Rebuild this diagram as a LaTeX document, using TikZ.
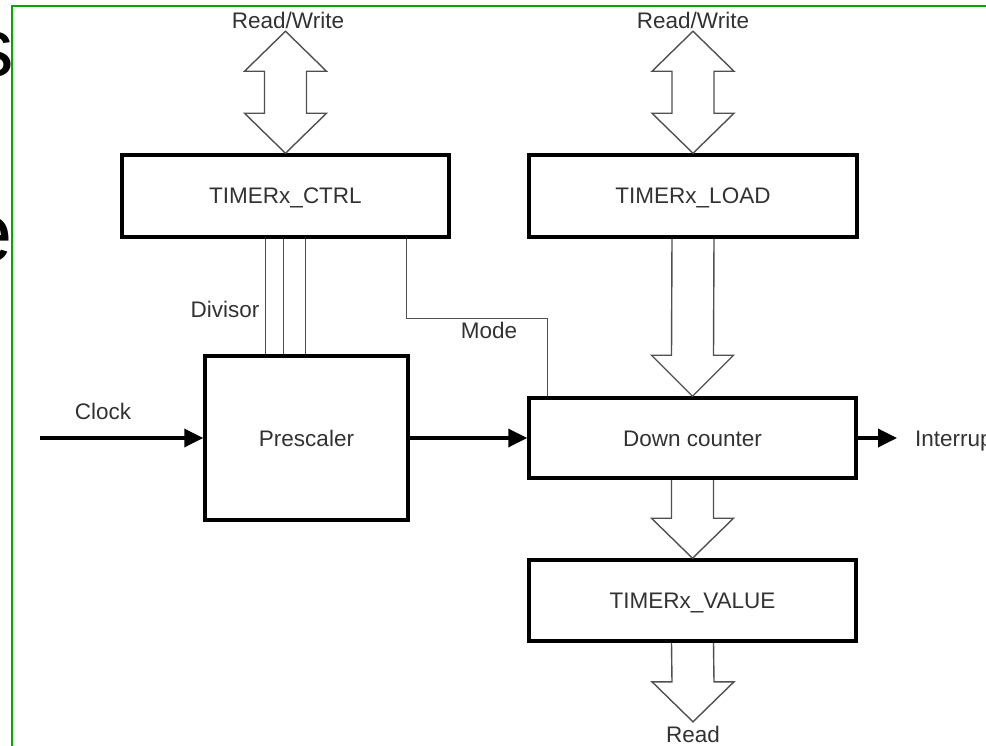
\documentclass[tikz,border=0pt]{standalone}
\usepackage{fontspec}
\setmainfont{Liberation Sans}
\usetikzlibrary{arrows.meta,calc}
\definecolor{framegreen}{RGB}{0,170,0}
\definecolor{txt}{RGB}{50,50,50}
\definecolor{bus}{RGB}{80,80,80}
\begin{document}
\begin{tikzpicture}[x=1pt,y=-1pt,
  blk/.style={draw=black, line width=3.5pt, minimum width=327pt, minimum height=82pt,
    inner sep=0pt, text=txt, font=\fontsize{22.5}{27}\selectfont, text height=16pt, text depth=0pt},
  lbl/.style={text=txt, font=\fontsize{22.5}{27}\selectfont, inner sep=0pt, text height=16pt, text depth=0pt},
  busline/.style={draw=bus, line width=1.4pt, line join=miter},
  wire/.style={draw=bus, line width=1.4pt},
  sig/.style={draw=black, line width=3.5pt, -{Triangle[length=19pt,width=18pt]}},
  bigletter/.style={anchor=base east, inner sep=0pt, font=\fontsize{83}{90}\selectfont}]
\useasboundingbox (0,0) rectangle (986,746);
\clip (0,0) rectangle (986,746);

% background letters of the slide
\node[bigletter] (bs) at (14,77) {s};
\node[bigletter] (be) at (13,262) {e};

% blocks
\node[blk] (ctrl) at (285.5,196) {TIMERx\_CTRL};
\node[blk, minimum width=328pt] (load) at (693,196) {TIMERx\_LOAD};
\node[blk, minimum width=203pt, minimum height=164pt] (pres) at (306.5,438) {Prescaler};
\node[blk, minimum height=80pt] (down) at (692.5,438) {Down counter};
\node[blk, minimum height=81pt] (value) at (692.5,600.5) {TIMERx\_VALUE};

% labels
\node[lbl] (rw1) at (288,21) {Read/Write};
\node[lbl] (rw2) at (693,21) {Read/Write};
\node[lbl] (div) at (225,309) {Divisor};
\node[lbl] (mode) at (489,330) {Mode};
\node[lbl] (clk) at (103,411) {Clock};
\node[lbl, anchor=west] (intr) at (915,438) {Interrupt};
\node[lbl] (rd) at (693,734) {Read};

% double bus arrows (read/write)
\foreach \b in {ctrl, load} {
  \draw[busline] (\b.north) -- ++(-41,-40) -- ++(20,0) -- ++(0,-42) -- ++(-20,0)
    -- ++(41,-40) -- ++(41,40) -- ++(-20,0) -- ++(0,42) -- ++(20,0) -- cycle;
}

% load -> down counter
\draw[busline] ($(load.south)+(-21,0)$) -- ($(down.north)+(-21,-41)$) -- ($(down.north)+(-41,-41)$)
  -- (down.north) -- ($(down.north)+(41,-41)$) -- ($(down.north)+(21,-41)$) -- ($(load.south)+(21,0)$);

% down counter -> value
\draw[busline] ($(down.south)+(-21,0)$) -- ($(value.north)+(-21,-40)$) -- ($(value.north)+(-41,-40)$)
  -- (value.north) -- ($(value.north)+(41,-40)$) -- ($(value.north)+(21,-40)$) -- ($(down.south)+(21,0)$);

% value -> read
\coordinate (rdtip) at ($(rd.north)+(0,-4)$);
\draw[busline] ($(value.south)+(-21,0)$) -- ($(rdtip)+(-21,-40)$) -- ($(rdtip)+(-41,-40)$)
  -- (rdtip) -- ($(rdtip)+(41,-40)$) -- ($(rdtip)+(21,-40)$) -- ($(value.south)+(21,0)$);

% divisor lines
\foreach \dx [count=\i] in {62,80,102} {
  \coordinate (dv\i) at ($(pres.north west)+(\dx,0)$);
  \draw[wire] (dv\i) -- (dv\i |- ctrl.south);
}

% mode line
\coordinate (m1) at ($(ctrl.south west)+(286,0)$);
\coordinate (m2) at ($(down.north west)+(20,0)$);
\draw[wire] (m1) -- ++(0,80) -| (m2);

% signal arrows
\coordinate (clkin) at (40,438);
\draw[sig] (clkin) -- (pres.west);
\draw[sig] (pres.east) -- (down.west);
\draw[sig] (down.east) -- ($(intr.west)+(-18,0)$);

% green frame
\draw[framegreen, line width=2pt] (12,760) -- (12,6) -- (1000,6);
\end{tikzpicture}
\end{document}
